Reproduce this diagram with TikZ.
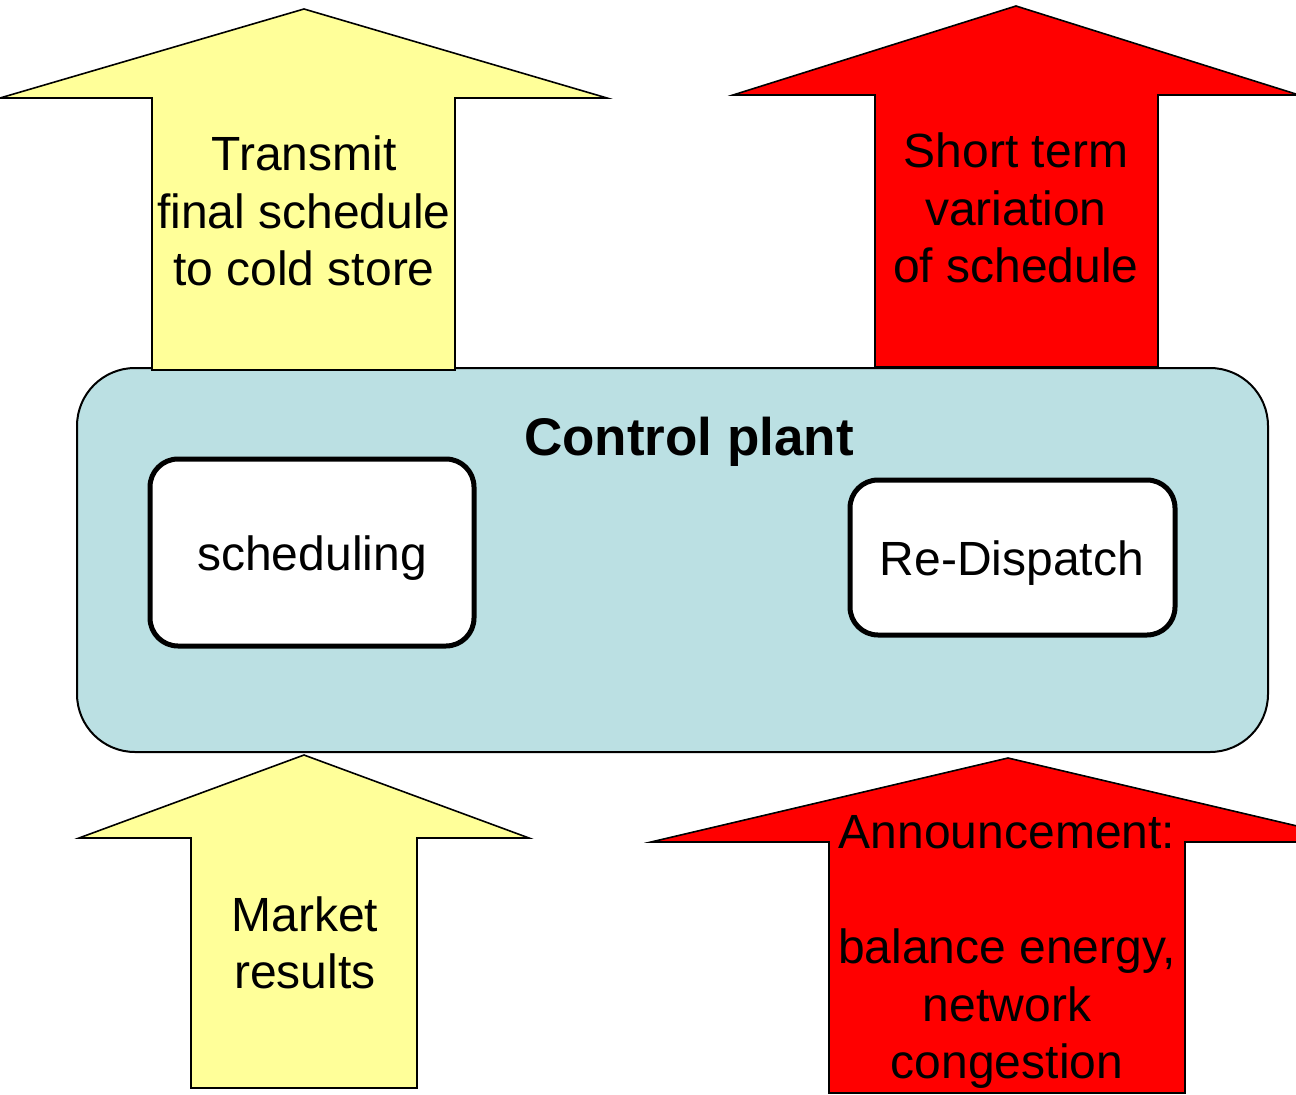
\documentclass[tikz,border=0pt]{standalone}
\usepackage{fontspec}
\setmainfont{Liberation Sans}
\definecolor{arrowyellow}{RGB}{255,255,153}
\definecolor{arrowred}{RGB}{255,0,0}
\definecolor{plantblue}{RGB}{187,224,227}
\begin{document}
\begin{tikzpicture}[x=1pt,y=-1pt,
  yarrow/.style={fill=arrowyellow, draw=black, line width=1.6pt, line join=miter},
  rarrow/.style={fill=arrowred, draw=black, line width=1.6pt, line join=miter},
  plantbox/.style={fill=plantblue, draw=black, line width=2pt, rounded corners=58pt},
  taskbox/.style={fill=white, draw=black, line width=5pt, rounded corners=28pt},
  lbl/.style={font=\fontsize{48}{57.5}\selectfont, align=center, inner sep=0pt},
  title/.style={font=\fontsize{53}{60}\selectfont\bfseries, inner sep=0pt}]
\useasboundingbox (0,0) rectangle (1296,1095);
\clip (0,0) rectangle (1296,1095);
% control plant container
\draw[plantbox] (77,368) rectangle (1268,752);
\node[title, anchor=base] (plant) at (689,455) {Control plant};
% inner boxes
\draw[taskbox] (150,459) rectangle (474,646);
\node[lbl, anchor=base] (sched) at (312,570) {scheduling};
\draw[taskbox] (850,480) rectangle (1175,635);
\node[lbl, anchor=base] (redisp) at (1012,575) {Re-Dispatch};
% top-left arrow
\draw[yarrow] (304,9) -- (607,98) -- (455,98) -- (455,370) -- (152,370) -- (152,98) -- (0,98) -- cycle;
\node[lbl] (transmit) at (304,211) {Transmit\\final schedule\\to cold store};
% top-right arrow
\draw[rarrow] (1016,6) -- (1299,95) -- (1158,95) -- (1158,367) -- (875,367) -- (875,95) -- (733,95) -- cycle;
\node[lbl] (shortterm) at (1016,208) {Short term\\variation\\of schedule};
% bottom-left arrow
\draw[yarrow] (304,755) -- (529,838) -- (417,838) -- (417,1088) -- (191,1088) -- (191,838) -- (79,838) -- cycle;
\node[lbl] (market) at (305,943) {Market\\results};
% bottom-right arrow
\draw[rarrow] (1008,758) -- (1365,842) -- (1185,842) -- (1185,1093) -- (829,1093) -- (829,842) -- (651,842) -- cycle;
\node[lbl] (announce) at (1007,952) {Announcement:\\ \\balance energy,\\network\\congestion};
\end{tikzpicture}
\end{document}
